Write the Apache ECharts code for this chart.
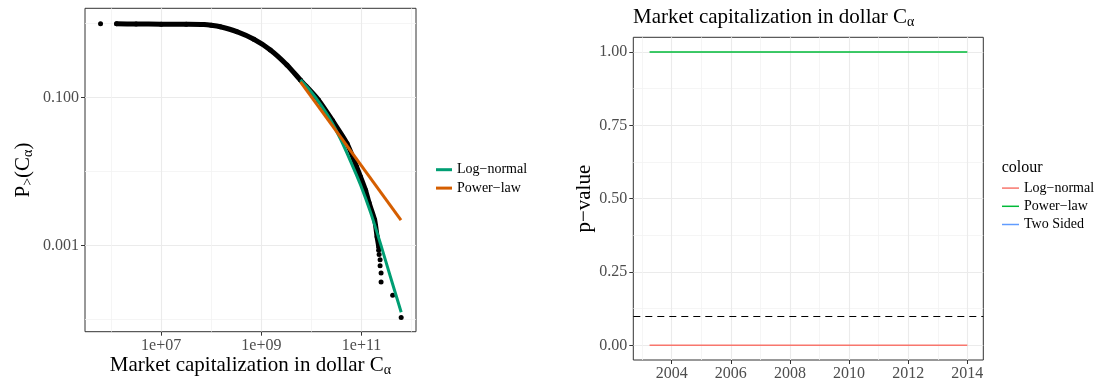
<!DOCTYPE html>
<html>
<head>
<meta charset="utf-8">
<script src="https://cdn.jsdelivr.net/npm/echarts@6/dist/echarts.min.js"></script>
<style>
  html, body { margin: 0; padding: 0; background: #ffffff; }
  #chart { width: 1096px; height: 381px; }
</style>
</head>
<body>
<div id="chart"></div>
<script>
// ---- Left panel: complementary CDF of market capitalization ----
// dense part of the empirical distribution (dollars, P>)
const bandCap = [1.29e6, 3.16e6, 1.0e7, 3.16e7, 7.08e7, 1.0e8, 1.51e8, 3.24e8, 7.08e8, 1.51e9,
                 3.24e9, 6.03e9, 1.38e10, 2.63e10, 5.13e10, 7.94e10, 9.55e10, 1.20e11, 1.41e11,
                 1.82e11, 2.04e11, 2.21e11];
const bandP   = [0.995, 0.991, 0.986, 0.984, 0.977, 0.955, 0.910, 0.780, 0.615, 0.442,
                 0.277, 0.173, 0.0933, 0.0490, 0.0240, 0.0117, 0.00851, 0.00562, 0.00380,
                 0.00224, 0.00132, 0.000955];
// isolated observations (smallest company and the largest ones)
const sparseCap = [6.17e5, 2.19e11, 2.24e11, 2.34e11, 2.34e11, 2.45e11, 2.45e11, 4.17e11, 6.17e11];
const sparseP   = [1.0, 8.71e-4, 7.59e-4, 6.46e-4, 5.37e-4, 4.27e-4, 3.24e-4, 2.14e-4, 1.07e-4];
// fitted distributions
const logNormalCap = [6.03e9, 9.55e9, 1.51e10, 2.40e10, 3.80e10, 6.03e10, 9.55e10, 1.51e11,
                      2.40e11, 3.80e11, 6.17e11];
const logNormalP   = [0.174, 0.123, 0.0813, 0.0501, 0.0275, 0.0138, 0.00661, 0.00282,
                      0.00105, 0.000372, 0.000126];
const powerLawCap = [6.03e9, 6.11e11];
const powerLawP   = [0.164, 0.00222];
// axis ticks (dollars / probability)
const capMajorTicks = [1e7, 1e9, 1e11];
const capMinorTicks = [1e6, 1e8, 1e10, 1e12];
const pMajorTicks = [0.1, 0.001];
const pMinorTicks = [1, 0.01, 1e-4];

// ---- Right panel: Vuong test p-values by year ----
const years = [2003.25, 2004, 2005, 2006, 2007, 2008, 2009, 2010, 2011, 2012, 2013, 2014];
const pLogNormal = [0, 0, 0, 0, 0, 0, 0, 0, 0, 0, 0, 0];
const pPowerLaw  = [1, 1, 1, 1, 1, 1, 1, 1, 1, 1, 1, 1];
const pTwoSided  = [null, null, null, null, null, null, null, null, null, null, null, null];
const yearMajorTicks = [2004, 2006, 2008, 2010, 2012, 2014];
const yearMinorTicks = [2003, 2005, 2007, 2009, 2011, 2013];
const pvalMajorTicks = [0, 0.25, 0.5, 0.75, 1];
const pvalMinorTicks = [0.125, 0.375, 0.625, 0.875];
const significance = 0.1;

const FONT = 'Liberation Serif';
const TICK_COLOR = '#4D4D4D';
const GRID_MAJOR = '#EBEBEB';
const GRID_MINOR = '#F3F3F3';
const TITLE_SIZE = 21;
const TITLE_LH = 24;
// subscript token: smaller box pushed to the bottom of the line
const subRich = {
  sub: { fontFamily: FONT, fontSize: 14, lineHeight: 15, verticalAlign: 'bottom', color: '#000' }
};

// the left panel is log-log: positions are taken in decades
const lg = Math.log10;
const toLogPairs = (xs, ys) => xs.map((x, i) => [lg(x), lg(ys[i])]);
const zip = (xs, ys) => xs.map((x, i) => [x, ys[i]]);

function majorAxis(base, ticks, fmt) {
  return Object.assign({
    axisLine: { show: false, onZero: false },
    axisTick: { show: true, length: 4, customValues: ticks, lineStyle: { color: '#333', width: 1 } },
    axisLabel: { customValues: ticks, formatter: fmt, color: TICK_COLOR, fontFamily: FONT, fontSize: 16, margin: 6 },
    splitLine: { show: true, lineStyle: { color: GRID_MAJOR, width: 1.1 } }
  }, base);
}
function minorAxis(base, ticks) {
  return Object.assign({
    axisLine: { show: false, onZero: false },
    axisTick: { show: false, customValues: ticks },
    axisLabel: { show: false },
    splitLine: { show: true, lineStyle: { color: GRID_MINOR, width: 0.8 } }
  }, base);
}

const capFmt = v => '1e+' + String(Math.round(v)).padStart(2, '0');
const pFmt = v => Math.pow(10, v).toFixed(3);
const pvFmt = v => v.toFixed(2);

const capRange = { min: 5.48, max: 12.086 };
const pRange = { min: -4.162, max: 0.208 };
const yearRange = { min: 2002.70, max: 2014.54 };
const pvalRange = { min: -0.05, max: 1.05 };

const nameStyle = { fontFamily: FONT, fontSize: TITLE_SIZE, lineHeight: TITLE_LH, color: '#000', rich: subRich };

const chart = echarts.init(document.getElementById('chart'), null, { renderer: 'canvas' });
chart.setOption({
  backgroundColor: '#ffffff',
  animation: false,
  title: {
    text: 'Market capitalization in dollar C{sub|α}',
    left: 633, top: 5, padding: 0,
    textStyle: { fontFamily: FONT, fontSize: TITLE_SIZE, lineHeight: TITLE_LH, fontWeight: 'normal', color: '#000', rich: subRich }
  },
  grid: [
    { left: 85, top: 8.3, width: 331, height: 323.4, outerBoundsMode: 'none', containLabel: false,
      show: true, borderColor: '#333', borderWidth: 1, backgroundColor: '#fff' },
    { left: 633.3, top: 37.3, width: 350, height: 322.7, outerBoundsMode: 'none', containLabel: false,
      show: true, borderColor: '#333', borderWidth: 1, backgroundColor: '#fff' }
  ],
  xAxis: [
    majorAxis(Object.assign({ type: 'value', gridIndex: 0, position: 'bottom',
      name: 'Market capitalization in dollar C{sub|α}', nameLocation: 'middle', nameGap: 22,
      nameMoveOverlap: false, nameTextStyle: nameStyle }, capRange), capMajorTicks.map(lg), capFmt),
    minorAxis(Object.assign({ type: 'value', gridIndex: 0, position: 'bottom' }, capRange), capMinorTicks.map(lg)),
    majorAxis(Object.assign({ type: 'value', gridIndex: 1, position: 'bottom' }, yearRange), yearMajorTicks, v => String(v)),
    minorAxis(Object.assign({ type: 'value', gridIndex: 1, position: 'bottom' }, yearRange), yearMinorTicks)
  ],
  yAxis: [
    majorAxis(Object.assign({ type: 'value', gridIndex: 0, position: 'left',
      name: 'P{sub|>}(C{sub|α})', nameLocation: 'middle', nameGap: 50, nameRotate: 90,
      nameTextStyle: nameStyle }, pRange), pMajorTicks.map(lg), pFmt),
    minorAxis(Object.assign({ type: 'value', gridIndex: 0, position: 'left' }, pRange), pMinorTicks.map(lg)),
    majorAxis(Object.assign({ type: 'value', gridIndex: 1, position: 'left',
      name: 'p−value', nameLocation: 'middle', nameGap: 38, nameRotate: 90,
      nameTextStyle: { fontFamily: FONT, fontSize: TITLE_SIZE, color: '#000' } }, pvalRange), pvalMajorTicks, pvFmt),
    minorAxis(Object.assign({ type: 'value', gridIndex: 1, position: 'left' }, pvalRange), pvalMinorTicks)
  ],
  legend: [
    {
      left: 436, top: 160.5, padding: 0, orient: 'vertical', itemGap: 0,
      itemWidth: 16, itemHeight: 3, icon: 'rect',
      textStyle: { fontFamily: FONT, fontSize: 14, color: '#000', lineHeight: 18.4 },
      data: [
        { name: 'Log−normal', itemStyle: { color: '#009E73' } },
        { name: 'Power−law', itemStyle: { color: '#D55E00' } }
      ]
    },
    {
      left: 1002, top: 179, padding: 0, orient: 'vertical', itemGap: 0,
      itemWidth: 17, itemHeight: 1.5, icon: 'rect',
      textStyle: { fontFamily: FONT, fontSize: 14, color: '#000', lineHeight: 18.2 },
      data: [
        { name: 'Log−normal ', itemStyle: { color: '#F8766D' } },
        { name: 'Power−law ', itemStyle: { color: '#00BA38' } },
        { name: 'Two Sided', itemStyle: { color: '#619CFF' } }
      ],
      formatter: n => n.trim()
    }
  ],
  graphic: [
    { type: 'text', left: 1001.7, top: 160,
      style: { text: 'colour', fontFamily: FONT, fontSize: 16, fill: '#000' } }
  ],
  series: [
    // empirical CCDF: dense band plus individual points
    { type: 'line', name: 'empirical', xAxisIndex: 0, yAxisIndex: 0, data: toLogPairs(bandCap, bandP),
      showSymbol: true, symbol: 'circle', symbolSize: 5, smooth: 0.25, itemStyle: { color: '#000' },
      lineStyle: { color: '#000', width: 5, cap: 'round', join: 'round' }, z: 2 },
    { type: 'scatter', name: 'empirical points', xAxisIndex: 0, yAxisIndex: 0, data: toLogPairs(sparseCap, sparseP),
      symbol: 'circle', symbolSize: 5, itemStyle: { color: '#000', opacity: 1 }, z: 2 },
    { type: 'line', name: 'Log−normal', xAxisIndex: 0, yAxisIndex: 0, data: toLogPairs(logNormalCap, logNormalP),
      showSymbol: false, smooth: 0.3, lineStyle: { color: '#009E73', width: 3 }, itemStyle: { color: '#009E73' }, z: 3 },
    { type: 'line', name: 'Power−law', xAxisIndex: 0, yAxisIndex: 0, data: toLogPairs(powerLawCap, powerLawP),
      showSymbol: false, lineStyle: { color: '#D55E00', width: 3 }, itemStyle: { color: '#D55E00' }, z: 4 },
    // p-values by year (the two-sided test has no values here)
    { type: 'line', name: 'Two Sided', xAxisIndex: 2, yAxisIndex: 2, data: zip(years, pTwoSided),
      showSymbol: false, lineStyle: { color: '#619CFF', width: 1.5 }, itemStyle: { color: '#619CFF' }, z: 2 },
    { type: 'line', name: 'Log−normal ', xAxisIndex: 2, yAxisIndex: 2, data: zip(years, pLogNormal),
      showSymbol: false, lineStyle: { color: '#F8766D', width: 1.5 }, itemStyle: { color: '#F8766D' }, z: 3 },
    { type: 'line', name: 'Power−law ', xAxisIndex: 2, yAxisIndex: 2, data: zip(years, pPowerLaw),
      showSymbol: false, lineStyle: { color: '#00BA38', width: 1.5 }, itemStyle: { color: '#00BA38' }, z: 3,
      markLine: { silent: true, symbol: 'none', label: { show: false },
        lineStyle: { color: '#000', type: [7, 5], width: 1.1 },
        data: [{ yAxis: significance }] } }
  ]
});
</script>
</body>
</html>
